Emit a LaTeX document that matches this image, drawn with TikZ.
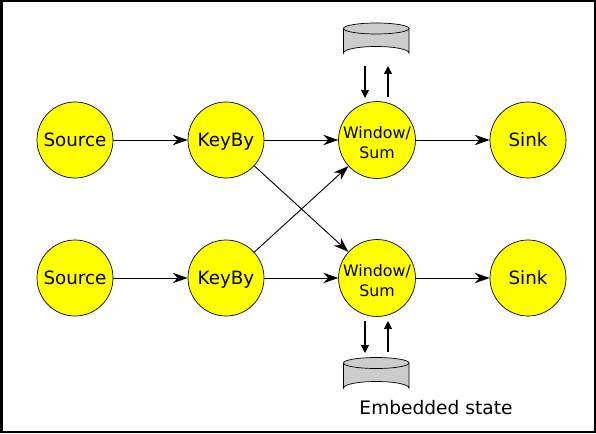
\documentclass[tikz,border=0pt]{standalone}
\usepackage{fontspec}
\setmainfont{DejaVu Sans}
\usetikzlibrary{arrows.meta}
\definecolor{opyellow}{rgb}{1,1,0}
\definecolor{drumgrey}{rgb}{0.8,0.8,0.8}
\tikzset{
  x=1pt,y=-1pt,
  opnode/.style={circle,draw=black,line width=0.7pt,fill=opyellow,minimum size=76pt,inner sep=0pt,font=\fontsize{18.3}{20}\selectfont,text=black,text height=14pt,text depth=2pt},
  winnode/.style={circle,draw=black,line width=0.7pt,fill=opyellow,minimum size=76pt,inner sep=0pt,text=black,font=\fontsize{15.8}{20}\selectfont,align=center},
  flow/.style={draw=black,line width=0.9pt,-{Stealth[length=15pt,width=10.5pt,inset=5pt]}},
  stateio/.style={draw=black,line width=1.2pt,-{Stealth[length=8pt,width=8pt,inset=0.5pt]}},
  drum/.style={draw=black,line width=0.7pt,fill=drumgrey},
}
\begin{document}
\begin{tikzpicture}
\useasboundingbox (0,0) rectangle (596,433);
\draw[black,line width=2.5pt] (1.25,1.25) rectangle (594.75,431.75);
\node[opnode] (s1) at (75,140) {Source};
\node[opnode] (k1) at (226,140) {KeyBy};
\node[winnode] (w1) at (377,140) {\rule{0pt}{17pt}Window/\\Sum};
\node[opnode] (o1) at (528,140) {Sink};
\node[opnode] (s2) at (75,278) {Source};
\node[opnode] (k2) at (226,278) {KeyBy};
\node[winnode] (w2) at (377,278) {\rule{0pt}{17pt}Window/\\Sum};
\node[opnode] (o2) at (528,278) {Sink};
\draw[flow] (s1) -- (k1);
\draw[flow] (k1) -- (w1);
\draw[flow] (w1) -- (o1);
\draw[flow] (s2) -- (k2);
\draw[flow] (k2) -- (w2);
\draw[flow] (w2) -- (o2);
\draw[flow] (k1) -- (w2);
\draw[flow] (k2) -- (w1);
% state drums
\draw[drum] (343.5,28.5) -- (343.5,53) arc[x radius=32.75,y radius=6.5,start angle=180,end angle=360] -- (409,28.5) -- cycle;
\draw[drum] (376.25,28.5) ellipse[x radius=32.75,y radius=5.5];
\draw[drum] (343.5,363) -- (343.5,388) arc[x radius=32.75,y radius=6.5,start angle=180,end angle=360] -- (409,363) -- cycle;
\draw[drum] (376.25,363) ellipse[x radius=32.75,y radius=5.5];
\coordinate (a1) at (365,66);
\coordinate (a2) at (365,98);
\coordinate (a3) at (388,97);
\coordinate (a4) at (388,66);
\coordinate (b1) at (365,321);
\coordinate (b2) at (365,353);
\coordinate (b3) at (388,352);
\coordinate (b4) at (388,321);
\draw[stateio] (a1) -- (a2);
\draw[stateio] (a3) -- (a4);
\draw[stateio] (b1) -- (b2);
\draw[stateio] (b3) -- (b4);
\node[font=\fontsize{18.6}{20}\selectfont,text=black] (lbl) at (436,408) {Embedded state};
\end{tikzpicture}
\end{document}
